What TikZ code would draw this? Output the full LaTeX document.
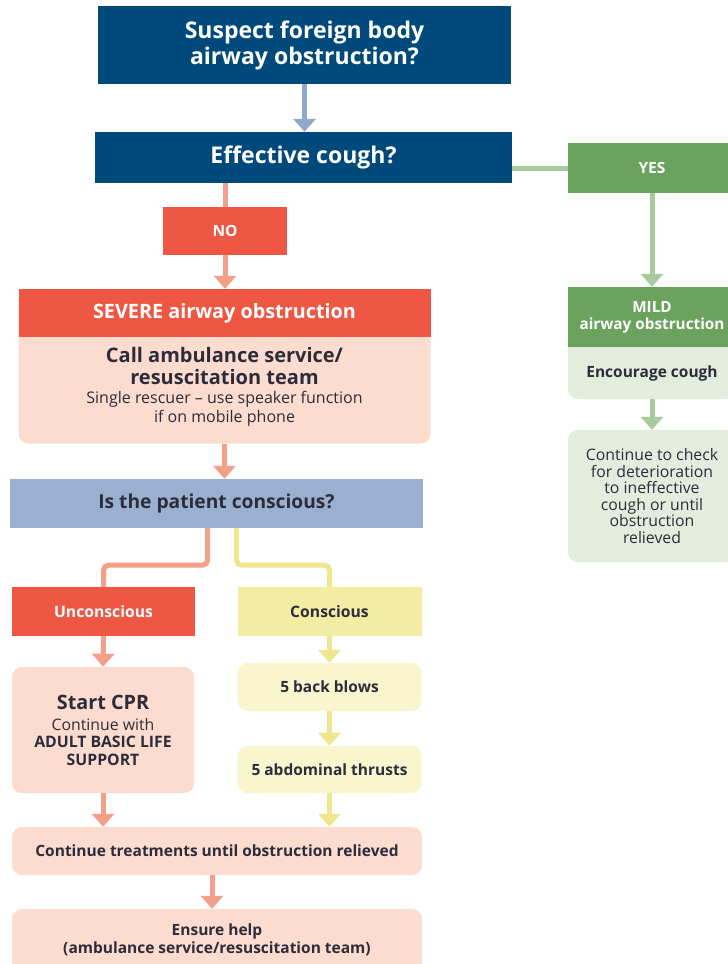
\documentclass[tikz,border=0pt]{standalone}
\usepackage{fontspec}
\setmainfont{Open Sans}
\usetikzlibrary{arrows.meta}
\definecolor{navy}{HTML}{004A7B}
\definecolor{navyarr}{HTML}{8EA9CB}
\definecolor{redb}{HTML}{EE5743}
\definecolor{salm}{HTML}{F4A089}
\definecolor{pinkb}{HTML}{FBDCCF}
\definecolor{peri}{HTML}{9AB0D0}
\definecolor{grn}{HTML}{6BA35E}
\definecolor{grnl}{HTML}{A7CB9C}
\definecolor{grnb}{HTML}{E3EDDE}
\definecolor{yel}{HTML}{F3EDA3}
\definecolor{yell}{HTML}{EFE68E}
\definecolor{yelb}{HTML}{F8F5CF}
\definecolor{txt}{HTML}{2D2C3A}
\tikzset{
  bx/.style={inner sep=0pt, align=center, draw=none},
  hdr/.style={bx, font=\bfseries\fontsize{23}{26}\selectfont, text=white, fill=navy},
  redhdr/.style={bx, fill=redb, text=white},
  soft/.style={bx, rounded corners=10pt},
  lbl/.style={inner sep=0pt, align=center, text=txt},
  conn/.style={line width=5pt},
  tip/.style={conn, -{Triangle[width=22pt,length=13pt]}},
}
\begin{document}
\begin{tikzpicture}[x=1pt,y=-1pt]
\useasboundingbox (0,0) rectangle (728,964);
\clip (0,0) rectangle (728,964);
\fill[white] (0,0) rectangle (728,964);
\coordinate (sx) at (207.5,0);
\coordinate (yx) at (236.5,0);
\coordinate (ex) at (212,0);

% top
\node[hdr, minimum width=413pt, minimum height=78pt] (top) at (304.5,45) {Suspect foreign body\\airway obstruction?};
\node[hdr, minimum width=417pt, minimum height=51pt] (cough) at (303.5,157.5) {Effective cough?};

% YES branch
\node[bx, fill=grn, text=white, font=\bfseries\fontsize{15.5}{18}\selectfont, minimum width=168pt, minimum height=50pt] (yes) at (652,168) {YES};
\node[soft, fill=grnb, minimum width=168pt, minimum height=112pt] (mildb) at (652,343) {};
\node[bx, fill=grn, text=white, font=\bfseries\fontsize{15.3}{17}\selectfont, minimum width=168pt, minimum height=60pt] (mildh) at (652,317) {MILD\\airway obstruction};
\node[lbl, font=\bfseries\fontsize{15.5}{18}\selectfont] (enc) at (652,373) {Encourage cough};
\node[soft, fill=grnb, text=txt, font=\fontsize{15.8}{16.6}\selectfont, minimum width=168pt, minimum height=132pt] (check) at (652,496) {Continue to check\\for deterioration\\to ineffective\\cough or until\\obstruction\\relieved};

% NO branch
\node[redhdr, font=\bfseries\fontsize{15.5}{18}\selectfont, minimum width=124pt, minimum height=48pt] (no) at (225,231) {NO};
\node[soft, fill=pinkb, minimum width=412pt, minimum height=154pt] (sevb) at (224.5,366.5) {};
\node[redhdr, font=\bfseries\fontsize{19.8}{22}\selectfont, minimum width=412pt, minimum height=48pt] (sevh) at (224.5,313) {SEVERE airway obstruction};
\node[lbl, font=\bfseries\fontsize{20}{21.5}\selectfont] (callt) at (224.5,366) {Call ambulance service/\\resuscitation team};
\node[lbl, font=\fontsize{16}{18.5}\selectfont] (singt) at (224.5,409) {Single rescuer – use speaker function\\if on mobile phone};

\node[bx, fill=peri, text=txt, font=\bfseries\fontsize{19.2}{22}\selectfont, minimum width=413pt, minimum height=49pt] (isc) at (216.5,503.5) {Is the patient conscious?};

\node[redhdr, font=\bfseries\fontsize{15.7}{18}\selectfont, minimum width=183pt, minimum height=49pt] (unc) at (103.5,611.5) {Unconscious};
\node[bx, fill=yel, text=txt, font=\bfseries\fontsize{15.7}{18}\selectfont, minimum width=184pt, minimum height=49pt] (con) at (329.5,611.5) {Conscious};

\node[soft, fill=pinkb, minimum width=182pt, minimum height=126pt] (cpr) at (103,730) {};
\node[lbl, font=\bfseries\fontsize{19.8}{22}\selectfont] (cprt) at (103,702) {Start CPR};
\node[lbl, font=\fontsize{15.8}{17.5}\selectfont] (cprs) at (103,742) {Continue with\\\textbf{ADULT BASIC LIFE}\\\textbf{SUPPORT}};

\node[soft, fill=yelb, text=txt, font=\bfseries\fontsize{15.5}{18}\selectfont, minimum width=184pt, minimum height=48pt] (bb) at (329.5,687) {5 back blows};
\node[soft, fill=yelb, text=txt, font=\bfseries\fontsize{15.5}{18}\selectfont, minimum width=184pt, minimum height=47pt] (abd) at (329.5,769.5) {5 abdominal thrusts};

\node[soft, fill=pinkb, text=txt, font=\bfseries\fontsize{15.5}{18}\selectfont, minimum width=410pt, minimum height=48pt] (cont) at (217,851) {Continue treatments until obstruction relieved};
\node[soft, fill=pinkb, minimum width=410pt, minimum height=72pt] (ens) at (217,945) {};
\node[lbl, font=\bfseries\fontsize{15.5}{17.5}\selectfont] (enst) at (217,940) {Ensure help\\(ambulance service/resuscitation team)};

% connectors
\draw[tip, navyarr] (top.south) -- (top.south |- cough.north);
\draw[conn, grnl] (yes.west -| cough.east) -- (yes.west);
\draw[tip, grnl] (yes.south) -- (mildh.north);
\draw[tip, grnl] (mildb.south) -- (check.north);
\draw[conn, salm] (no.north |- cough.south) -- (no.north);
\draw[tip, salm] (no.south) -- (no.south |- sevh.north);
\draw[tip, salm] (sevb.south) -- (sevb.south |- isc.north);
\draw[conn, salm, rounded corners=5pt] (isc.south -| sx) -- ++(0,37) -| (unc.north);
\draw[conn, yell, rounded corners=5pt] (isc.south -| yx) -- ++(0,37) -| (con.north);
\draw[tip, salm] (unc.south) -- (cpr.north);
\draw[tip, yell] (con.south) -- (bb.north);
\draw[tip, yell] (bb.south) -- (abd.north);
\draw[tip, salm] (cpr.south) -- (cpr.south |- cont.north);
\draw[tip, yell] (abd.south) -- (abd.south |- cont.north);
\draw[tip, salm] (cont.south -| ex) -- (ens.north -| ex);
\end{tikzpicture}
\end{document}
